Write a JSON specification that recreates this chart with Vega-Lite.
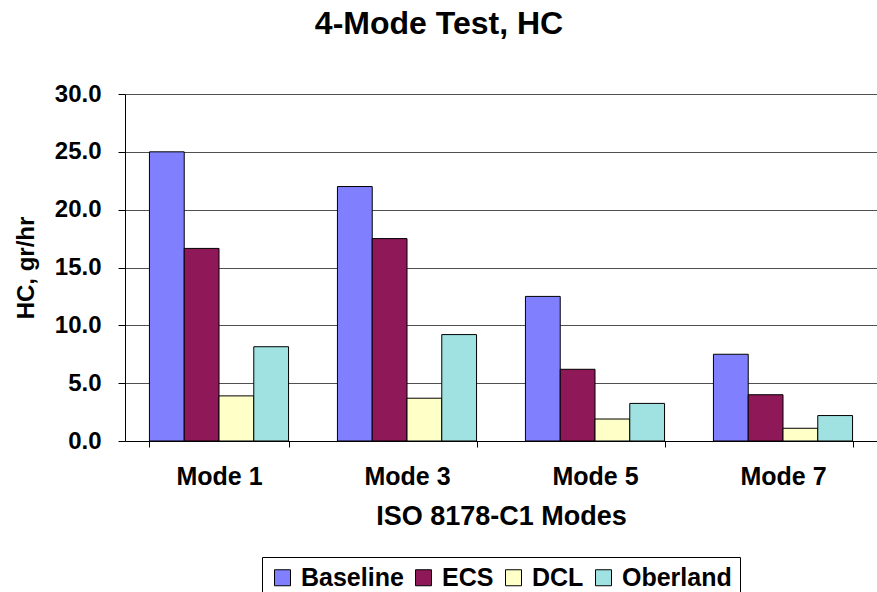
{
  "$schema": "https://vega.github.io/schema/vega-lite/v6.json",
  "autosize": "none",
  "padding": {"left": 125, "top": 94, "right": 0, "bottom": 151},
  "width": 752,
  "height": 347,
  "background": "white",
  "title": {"text": "4-Mode Test, HC", "font": "Liberation Sans", "fontSize": 32, "fontWeight": "bold", "color": "black", "offset": 41, "anchor": "middle", "dx": -62},
  "data": {"values": [
    {"mode": "Mode 1", "series": "Baseline", "hc": 25.0},
    {"mode": "Mode 1", "series": "ECS", "hc": 16.65},
    {"mode": "Mode 1", "series": "DCL", "hc": 3.9},
    {"mode": "Mode 1", "series": "Oberland", "hc": 8.15},
    {"mode": "Mode 3", "series": "Baseline", "hc": 22.0},
    {"mode": "Mode 3", "series": "ECS", "hc": 17.5},
    {"mode": "Mode 3", "series": "DCL", "hc": 3.7},
    {"mode": "Mode 3", "series": "Oberland", "hc": 9.2},
    {"mode": "Mode 5", "series": "Baseline", "hc": 12.5},
    {"mode": "Mode 5", "series": "ECS", "hc": 6.2},
    {"mode": "Mode 5", "series": "DCL", "hc": 1.9},
    {"mode": "Mode 5", "series": "Oberland", "hc": 3.25},
    {"mode": "Mode 7", "series": "Baseline", "hc": 7.5},
    {"mode": "Mode 7", "series": "ECS", "hc": 4.0},
    {"mode": "Mode 7", "series": "DCL", "hc": 1.1},
    {"mode": "Mode 7", "series": "Oberland", "hc": 2.2}
  ]},
  "mark": {"type": "bar", "stroke": "black", "strokeWidth": 1},
  "encoding": {
    "x": {
      "field": "mode", "type": "nominal",
      "scale": {"paddingInner": 0.26, "paddingOuter": 0.13},
      "axis": {
        "title": "ISO 8178-C1 Modes", "labelAngle": 0,
        "labelFont": "Liberation Sans", "labelFontSize": 25, "labelFontWeight": "bold", "labelColor": "black",
        "titleFont": "Liberation Sans", "titleFontSize": 27, "titleFontWeight": "bold", "titleColor": "black",
        "tickBand": "extent", "tickSize": 6, "tickColor": "black", "domainColor": "black",
        "labelPadding": 17, "titlePadding": 14, "grid": false
      }
    },
    "xOffset": {"field": "series", "type": "nominal", "sort": ["Baseline", "ECS", "DCL", "Oberland"]},
    "y": {
      "field": "hc", "type": "quantitative",
      "scale": {"domain": [0, 30], "nice": false},
      "axis": {
        "title": "HC, gr/hr", "values": [0, 5, 10, 15, 20, 25, 30], "format": ".1f",
        "labelFont": "Liberation Sans", "labelFontSize": 24, "labelFontWeight": "bold", "labelColor": "black",
        "titleFont": "Liberation Sans", "titleFontSize": 24, "titleFontWeight": "bold", "titleColor": "black",
        "tickSize": 7, "tickColor": "black", "domainColor": "black", "labelPadding": 17, "titlePadding": 16,
        "grid": true, "gridColor": "#505050", "gridWidth": 1.2
      }
    },
    "color": {
      "field": "series", "type": "nominal",
      "sort": ["Baseline", "ECS", "DCL", "Oberland"],
      "scale": {"domain": ["Baseline", "ECS", "DCL", "Oberland"], "range": ["#8080FF", "#8E1858", "#FFFFC8", "#A0E2E2"]},
      "legend": {
        "title": null, "orient": "none", "legendX": 137, "legendY": 463, "direction": "horizontal",
        "labelFont": "Liberation Sans", "labelFontSize": 25, "labelFontWeight": "bold", "labelColor": "black",
        "symbolType": "square", "symbolSize": 256, "symbolStrokeColor": "black", "symbolStrokeWidth": 1,
        "strokeColor": "black", "padding": 8, "columnPadding": 7, "labelOffset": 6, "labelLimit": 300
      }
    }
  },
  "config": {"view": {"stroke": null}}
}
